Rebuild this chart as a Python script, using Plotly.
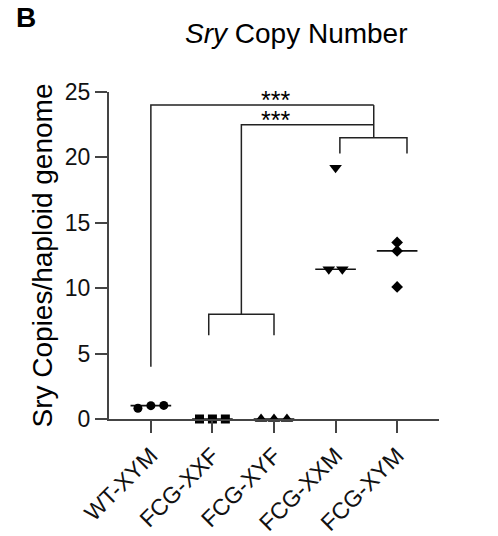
import plotly.graph_objects as go

# ---- data ----
categories = ["WT-XYM", "FCG-XXF", "FCG-XYF", "FCG-XXM", "FCG-XYM"]
wt_xym = [0.82, 1.02, 1.04]
fcg_xxf = [0.0, 0.0, 0.0]
fcg_xyf = [0.0, 0.0, 0.0]
fcg_xxm = [19.2, 11.45, 11.45]
fcg_xym = [13.5, 12.85, 10.1]
medians = [1.02, 0.0, 0.0, 11.45, 12.85]
y_ticks = [0, 5, 10, 15, 20, 25]
significance = ["***", "***"]

series = [wt_xym, fcg_xxf, fcg_xyf, fcg_xxm, fcg_xym]

# ---- styling / layout ----
FONT = "Liberation Sans, Arial, sans-serif"
offsets = [[-0.21, 0.0, 0.21], [-0.21, 0.0, 0.21], [-0.21, 0.0, 0.21],
           [0.0, -0.11, 0.11], [0.0, 0.0, 0.0]]
symbols = ["circle", "square", "triangle-up", "triangle-down", "diamond"]
sizes = [9, 9, 11, 11, 9]

fig = go.Figure()

# median lines
for i, m in enumerate(medians):
    fig.add_trace(go.Scatter(x=[i - 0.33, i + 0.33], y=[m, m], mode="lines",
                             line=dict(color="#111", width=1.6),
                             cliponaxis=False, hoverinfo="skip", showlegend=False))

# points
for i, vals in enumerate(series):
    fig.add_trace(go.Scatter(
        x=[i + o for o in offsets[i]], y=vals, mode="markers",
        marker=dict(symbol=symbols[i], size=sizes[i], color="#000"),
        cliponaxis=False, showlegend=False, name=categories[i]))

# significance brackets (lines with None separators)
bx, by = [], []
def seg(xs, ys):
    bx.extend(xs + [None]); by.extend(ys + [None])

# XXF vs XYF group bracket
seg([0.94, 0.94, 2.0, 2.0], [6.4, 8.0, 8.0, 6.4])
seg([1.47, 1.47, 3.62], [8.0, 22.5, 22.5])
# XXM vs XYM group bracket
seg([3.07, 3.07, 4.16, 4.16], [20.3, 21.5, 21.5, 20.3])
seg([3.62, 3.62], [21.5, 24.0])
# WT vs males
seg([0.0, 0.0, 3.62], [4.0, 24.0, 24.0])

fig.add_trace(go.Scatter(x=bx, y=by, mode="lines",
                         line=dict(color="#222", width=1.5),
                         cliponaxis=False, hoverinfo="skip", showlegend=False))

annotations = [
    dict(text="<b>B</b>", x=-0.288, y=1.229, xref="paper", yref="paper",
         xanchor="left", yanchor="middle", showarrow=False,
         font=dict(family=FONT, size=28, color="#000")),
    dict(text="<i>Sry</i> Copy Number", x=0.568, y=1.18, xref="paper", yref="paper",
         xanchor="center", yanchor="middle", showarrow=False,
         font=dict(family=FONT, size=28, color="#000")),
    dict(text="Sry Copies/haploid genome", x=-0.203, y=0.5, xref="paper", yref="paper",
         xanchor="center", yanchor="middle", textangle=-90, showarrow=False,
         font=dict(family=FONT, size=28, color="#000")),
    dict(text=significance[0], x=2.03, y=24.4, xref="x", yref="y",
         xanchor="center", yanchor="middle", showarrow=False,
         height=18, valign="middle",
         font=dict(family=FONT, size=25, color="#000")),
    dict(text=significance[1], x=2.03, y=22.85, xref="x", yref="y",
         xanchor="center", yanchor="middle", showarrow=False,
         height=18, valign="middle",
         font=dict(family=FONT, size=25, color="#000")),
]

fig.update_layout(
    width=498, height=536,
    margin=dict(l=109, r=59, t=92, b=117, pad=0),
    paper_bgcolor="white", plot_bgcolor="white",
    annotations=annotations,
    xaxis=dict(range=[-0.68, 4.68], tickvals=list(range(len(categories))),
               ticktext=categories, tickangle=-45, automargin=False,
               showline=True, linecolor="#444", linewidth=2,
               ticks="outside", ticklen=12, tickwidth=2, tickcolor="#444",
               showgrid=False, zeroline=False,
               tickfont=dict(family=FONT, size=23, color="#111")),
    yaxis=dict(range=[0, 25], tickvals=y_ticks, automargin=False,
               showline=True, linecolor="#444", linewidth=2,
               ticks="outside", ticklen=12, tickwidth=2, tickcolor="#444",
               showgrid=False, zeroline=False,
               tickfont=dict(family=FONT, size=23, color="#111")),
)

fig.write_html("out.html")
